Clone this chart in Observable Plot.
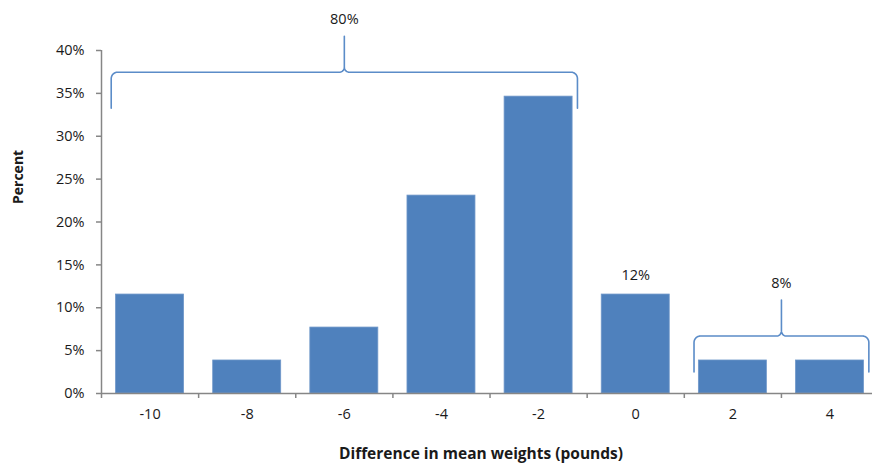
<!DOCTYPE html>
<html>
<head>
<meta charset="utf-8">
<script src="https://cdn.jsdelivr.net/npm/d3@7"></script>
<script src="https://cdn.jsdelivr.net/npm/@observablehq/plot@0.6"></script>
<style>
  html, body { margin: 0; padding: 0; background: #fff; }
  #chart { width: 872px; height: 468px; }
</style>
</head>
<body>
<div id="chart"></div>
<script>
// ---- data ----
const categories = [-10, -8, -6, -4, -2, 0, 2, 4];
const percents = [11.54, 3.85, 7.69, 23.08, 34.62, 11.54, 3.85, 3.85];
const yTicks = [0, 5, 10, 15, 20, 25, 30, 35, 40];
const groupFrom = [-10, 2];
const groupTo = [-2, 4];
const groupLabels = ["80%", "8%"];
const singleAt = [0];
const singleLabels = ["12%"];
const xTitle = "Difference in mean weights (pounds)";
const yTitle = "Percent";

// ---- derived tables ----
const bars = categories.map((c, i) => ({x: c, p: percents[i]}));
const boundaries = categories.map(c => c - 1);
const valueAt = c => percents[categories.indexOf(c)];

const groups = groupFrom.map((f, i) => {
  const members = categories.filter(c => c >= f && c <= groupTo[i]);
  const maxP = d3.max(members, valueAt);
  const base = maxP + 2.85;
  return {id: i, x1: f - 0.8, x2: groupTo[i] + 0.8, base, low: base - 4.2, top: base + 4.2, label: groupLabels[i]};
});

// curly-brace outline in data units (left half mirrored to the right)
const rx = 0.13, ry = 0.75, cx = 0.1, cy = 0.6, N = 8;
const bracePts = [];
for (const g of groups) {
  const xm = (g.x1 + g.x2) / 2;
  const left = [];
  left.push([g.x1, g.low]);
  for (let k = 0; k <= N; k++) { const t = Math.PI - (Math.PI / 2) * k / N; left.push([g.x1 + rx + rx * Math.cos(t), g.base - ry + ry * Math.sin(t)]); }
  for (let k = 0; k <= N; k++) { const t = -Math.PI / 2 + (Math.PI / 2) * k / N; left.push([xm - cx + cx * Math.cos(t), g.base + cy + cy * Math.sin(t)]); }
  left.push([xm, g.top]);
  const right = left.slice().reverse().map(([x, y]) => [2 * xm - x, y]);
  [...left, ...right.slice(1)].forEach(([x, y]) => bracePts.push({id: g.id, x, y}));
}

const singles = singleAt.map((a, i) => ({x: a, p: valueAt(a), label: singleLabels[i]}));

const gray = "#868686";
const blue = "#4f81bd";
const ink = "#1a1a1a";
const font = "'Open Sans', Lato, sans-serif";

const chart = Plot.plot({
  width: 872,
  height: 468,
  marginLeft: 101,
  marginRight: 0,
  marginTop: 50,
  marginBottom: 75,
  style: {fontFamily: font, fontSize: "14px", color: ink, background: "#fff", overflow: "visible"},
  x: {type: "linear", domain: [-11, 4.875]},
  y: {domain: [0, 40]},
  marks: [
    Plot.rectY(bars, {x1: d => d.x - 0.7, x2: d => d.x + 0.7, y1: 0, y2: "p", fill: blue, stroke: "#6f97c9", strokeWidth: 0.8}),
    Plot.ruleY([0], {stroke: gray, strokeWidth: 1.5}),
    Plot.ruleX([-11], {y1: 0, y2: 40, stroke: gray, strokeWidth: 1.5}),
    Plot.axisX({ticks: boundaries, tickFormat: () => "", tickSize: 5, stroke: gray, strokeWidth: 1.5, label: null}),
    Plot.axisX({ticks: categories, tickFormat: d => `${d}`, tickSize: 0, tickPadding: 15, fontSize: 14.5, label: null}),
    Plot.axisY({ticks: yTicks, tickFormat: d => `${d}%`, tickSize: 5, tickPadding: 12, fontSize: 14.5, stroke: gray, strokeWidth: 1.5, label: null}),
    Plot.line(bracePts, {x: "x", y: "y", z: "id", stroke: "#5b8cc8", strokeWidth: 1.6, clip: false}),
    Plot.text(groups, {x: d => (d.x1 + d.x2) / 2, y: "top", text: "label", dy: -16.5, fill: ink, fontSize: 14.5}),
    Plot.text(singles, {x: "x", y: "p", text: "label", dy: -19, fill: ink, fontSize: 14.5}),
    Plot.text([xTitle], {frameAnchor: "bottom", dy: 65, dx: -6, text: d => d, fontWeight: "bold", fontSize: 15.5}),
    Plot.text([yTitle], {frameAnchor: "left", dx: -83, dy: -18, rotate: -90, text: d => d, fontWeight: "bold", fontSize: 14})
  ]
});
document.getElementById("chart").appendChild(chart);
</script>
</body>
</html>
